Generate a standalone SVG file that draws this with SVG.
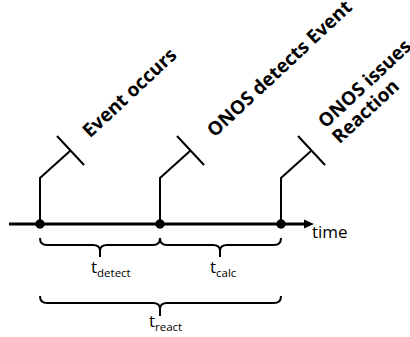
<svg xmlns="http://www.w3.org/2000/svg" width="410" height="337" viewBox="0 0 410 337">
  <style>
    .stem { fill: none; stroke: #000; stroke-width: 2; stroke-linejoin: miter; }
    .brace { fill: none; stroke: #000; stroke-width: 2; stroke-linecap: butt; }
    .axis { stroke: #000; stroke-width: 3; }
    .dot { fill: #000; }
    .lbl { font-family: "Open Sans", "DejaVu Sans", sans-serif; font-weight: bold; font-size: 19px; fill: #000; }
    .reg { font-family: "Open Sans", "DejaVu Sans", sans-serif; font-size: 17px; fill: #000; }
    .sub { font-size: 11.5px; }
  </style>
  <defs>
    <marker id="arrow" viewBox="0 0 10 10" refX="0" refY="5" markerWidth="10" markerHeight="10" markerUnits="userSpaceOnUse" orient="auto">
      <path d="M0,0.5 L10,5 L0,9.5 Z" fill="#000"/>
    </marker>
  </defs>

  <!-- time axis, event markers and spans -->
  <g id="connectors">
    <line class="axis" x1="9" y1="224" x2="304" y2="224" marker-end="url(#arrow)"/>
    <!-- event stems with flags -->
    <polyline class="stem" points="40,224 40,178 70,151"/>
    <line class="stem" x1="57" y1="136" x2="84" y2="165"/>
    <polyline class="stem" points="160,224 160,178 190,151"/>
    <line class="stem" x1="177" y1="136" x2="204" y2="165"/>
    <polyline class="stem" points="281,224 281,178 311,151"/>
    <line class="stem" x1="298" y1="136" x2="325" y2="165"/>
    <!-- braces -->
    <path class="brace" d="M40,238 Q40,245 47,245 L93,245 Q100,245 100,251 L100,257 M100,251 Q100,245 107,245 L153,245 Q160,245 160,238"/>
    <path class="brace" d="M160,238 Q160,245 167,245 L213,245 Q220,245 220,251 L220,257 M220,251 Q220,245 227,245 L274,245 Q281,245 281,238"/>
    <path class="brace" d="M40,296 Q40,303 47,303 L153,303 Q160,303 160,309 L160,316 M160,309 Q160,303 167,303 L274,303 Q281,303 281,296"/>
  </g>

  <g id="event-occurs">
    <circle class="dot" cx="40" cy="224" r="4.7"/>
    <text class="lbl" transform="translate(90,138.5) rotate(-43)">Event occurs</text>
  </g>
  <g id="onos-detects">
    <circle class="dot" cx="160" cy="224" r="4.7"/>
    <text class="lbl" transform="translate(214.5,138) rotate(-43)">ONOS detects Event</text>
  </g>
  <g id="onos-issues">
    <circle class="dot" cx="281" cy="224" r="4.7"/>
    <text class="lbl" transform="translate(325.5,129) rotate(-43)">ONOS issues</text>
    <text class="lbl" transform="translate(339.5,144.5) rotate(-43)">Reaction</text>
  </g>
  <g id="time-label">
    <text class="reg" x="312" y="238">time</text>
  </g>
  <g id="t-detect">
    <text class="reg" x="91" y="273">t<tspan class="sub" dy="4">detect</tspan></text>
  </g>
  <g id="t-calc">
    <text class="reg" x="210" y="273">t<tspan class="sub" dy="4">calc</tspan></text>
  </g>
  <g id="t-react">
    <text class="reg" x="149" y="327">t<tspan class="sub" dy="4">react</tspan></text>
  </g>
</svg>
